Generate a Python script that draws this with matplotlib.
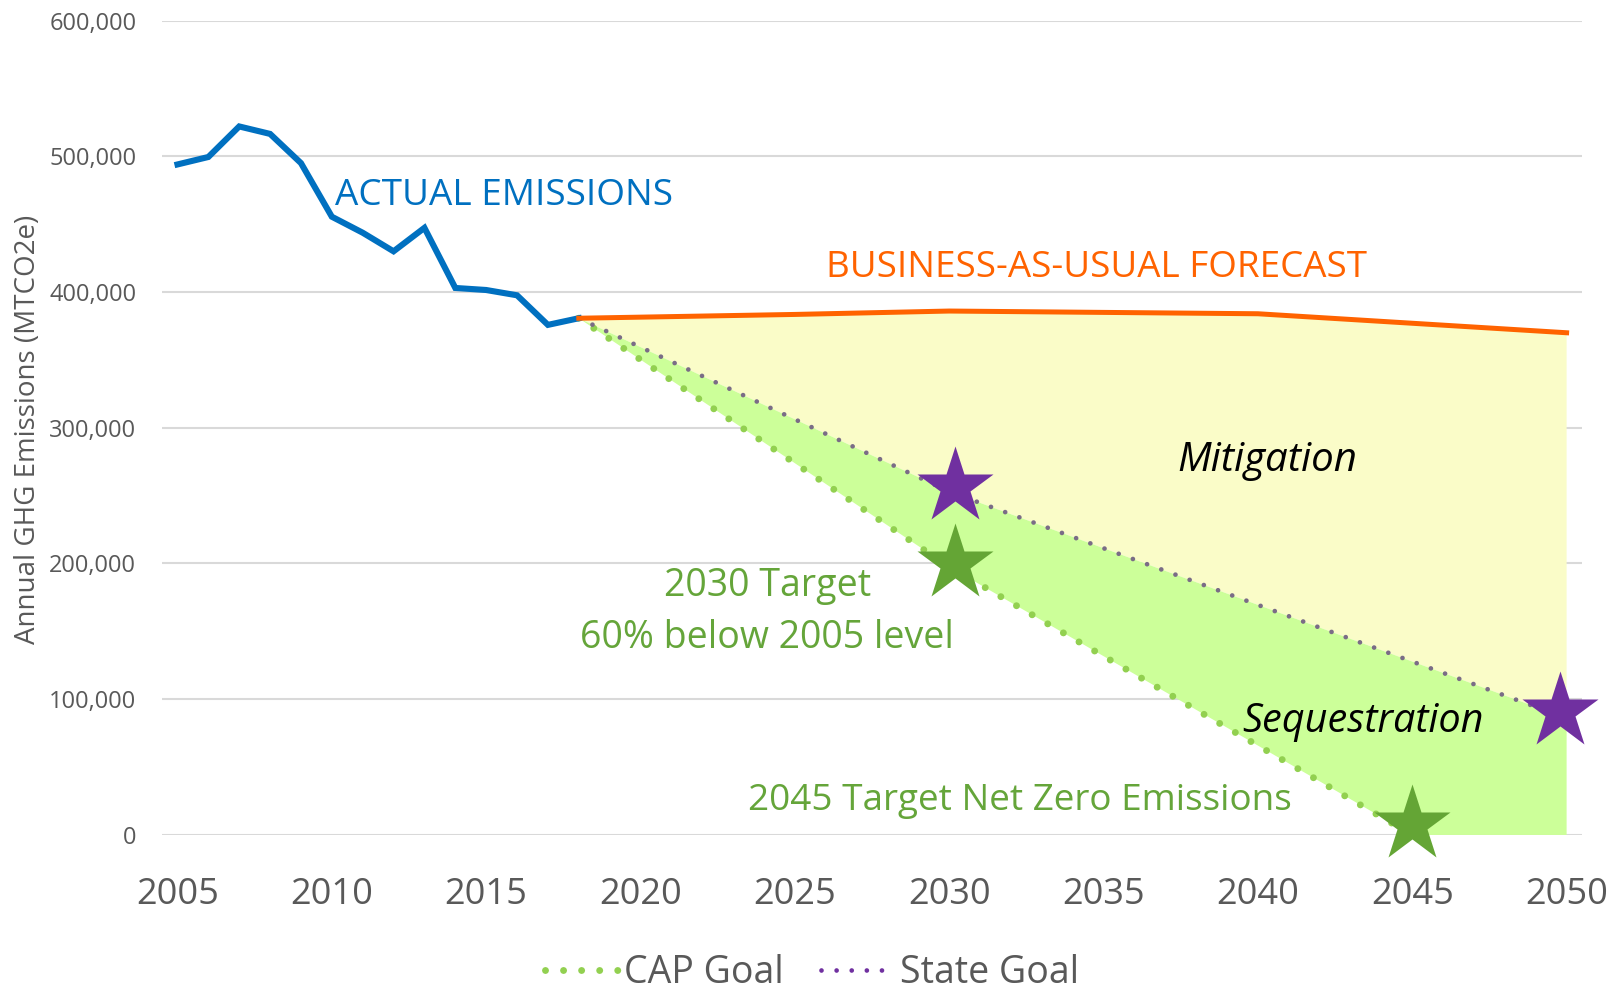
import numpy as np
import matplotlib
matplotlib.use('Agg')
from matplotlib import pyplot as plt
from matplotlib.ticker import FuncFormatter
from matplotlib.lines import Line2D

plt.rcParams['font.family'] = ['Open Sans', 'DejaVu Sans']

# actual emissions (MTCO2e)
actual_years = [2005, 2006, 2007, 2008, 2009, 2010, 2011, 2012, 2013, 2014, 2015, 2016, 2017, 2018]
actual = [494000, 499500, 522000, 516500, 495000, 455500, 443700, 430000, 447300, 403000, 401500, 397600, 375800, 380700]

# business-as-usual forecast
bau_years = [2018, 2020, 2025, 2030, 2035, 2040, 2045, 2050]
bau = [380700, 381500, 383500, 386000, 385000, 384000, 377000, 370000]

# state goal and CAP goal paths
state_years = [2018, 2030, 2050]
state = [380700, 253000, 86000]
cap_years = [2018, 2030, 2045]
cap = [380700, 197600, 0]
cap_floor_year = 2050   # green area stays at zero after 2045

# target stars
state_star_years = [2030.2, 2049.8]
state_star_vals = [257000, 91000]
cap_star_years = [2030.2, 2045]
cap_star_vals = [200000, 8000]

yticks = [0, 100000, 200000, 300000, 400000, 500000, 600000]
xticks = [2005, 2010, 2015, 2020, 2025, 2030, 2035, 2040, 2045, 2050]

# colours
blue = '#0070C0'
orange = '#FF6300'
yellow_fill = '#FAFCC8'
green_fill = '#CCFF99'
green_dot = '#92D050'
green_star = '#64A535'
green_text = '#65A53A'
purple = '#7030A0'
grey = '#595959'

# dotted styles (round dots)
cap_ls = (0, (0.001, 2.6))
state_ls = (0, (0.001, 3.2))

fig = plt.figure(figsize=(16.14, 9.94), dpi=100)
ax = fig.add_axes([0.1004, 0.16, 0.8798, 0.8193])

# mitigation area (BAU down to state goal)
poly_x = list(bau_years) + state_years[::-1]
poly_y = list(bau) + state[::-1]
ax.fill(poly_x, poly_y, color=yellow_fill, lw=0, zorder=1)

# sequestration area (state goal down to CAP goal)
poly_x = list(state_years) + [cap_floor_year] + cap_years[::-1]
poly_y = list(state) + [0] + cap[::-1]
ax.fill(poly_x, poly_y, color=green_fill, lw=0, zorder=1)

# lines
ax.plot(actual_years, actual, color=blue, lw=4.4, solid_joinstyle='miter', zorder=4)
ax.plot(bau_years, bau, color=orange, lw=3.6, zorder=4)
ax.plot(cap_years, cap, color=green_dot, lw=5, linestyle=cap_ls,
        dash_capstyle='round', zorder=3)
ax.plot(state_years, state, color='#7A6C86', lw=3.4, linestyle=state_ls,
        dash_capstyle='round', zorder=3)

# stars
ax.plot(state_star_years, state_star_vals, ls='none', marker='*', ms=58,
        color=purple, mec='none', zorder=5, clip_on=False)
ax.plot(cap_star_years, cap_star_vals, ls='none', marker='*', ms=58,
        color=green_star, mec='none', zorder=5, clip_on=False)

# annotations
ax.text(2010.1, 470400, 'ACTUAL EMISSIONS', color=blue, fontsize=26.6, va='center', ha='left')
ax.text(2026.0, 418000, 'BUSINESS-AS-USUAL FORECAST', color=orange, fontsize=26.5, va='center', ha='left')
ax.text(2040.3, 275500, 'Mitigation', color='black', fontsize=29, style='italic', va='center', ha='center')
ax.text(2043.4, 83500, 'Sequestration', color='black', fontsize=28.5, style='italic', va='center', ha='center')
ax.text(2024.1, 164000, '2030 Target\n60% below 2005 level', color=green_text, fontsize=27,
        va='center', ha='center', linespacing=1.48)
ax.text(2032.3, 25000, '2045 Target Net Zero Emissions', color=green_text, fontsize=26.6,
        va='center', ha='center')

# axes
ax.set_xlim(2004.5, 2050.5)
ax.set_ylim(0, 600000)
ax.set_yticks(yticks)
ax.set_xticks(xticks)
ax.yaxis.set_major_formatter(FuncFormatter(lambda v, p: '{:,.0f}'.format(v)))
ax.grid(axis='y', color='#D9D9D9', lw=1.5, zorder=0)
ax.set_axisbelow(True)
for s in ax.spines.values():
    s.set_visible(False)
ax.tick_params(axis='y', length=0, pad=18.5, labelsize=17, labelcolor=grey)
ax.tick_params(axis='x', length=0, pad=30, labelsize=26, labelcolor=grey)

fig.text(0.0175, 0.568, 'Annual GHG Emissions (MTCO2e)', rotation=90, fontsize=20,
         color=grey, ha='center', va='center')

# legend
handles = [
    Line2D([], [], color=green_dot, lw=5, linestyle=cap_ls, dash_capstyle='round'),
    Line2D([], [], color=purple, lw=3.4, linestyle=state_ls, dash_capstyle='round'),
]
fig.legend(handles, ['CAP Goal', 'State Goal'], loc='center', bbox_to_anchor=(0.503, 0.021),
           ncol=2, frameon=False, fontsize=27, labelcolor=grey, handlelength=1.95,
           handletextpad=0.15, columnspacing=1.0, borderaxespad=0, borderpad=0.1)

fig.savefig('out.png', dpi=100)
